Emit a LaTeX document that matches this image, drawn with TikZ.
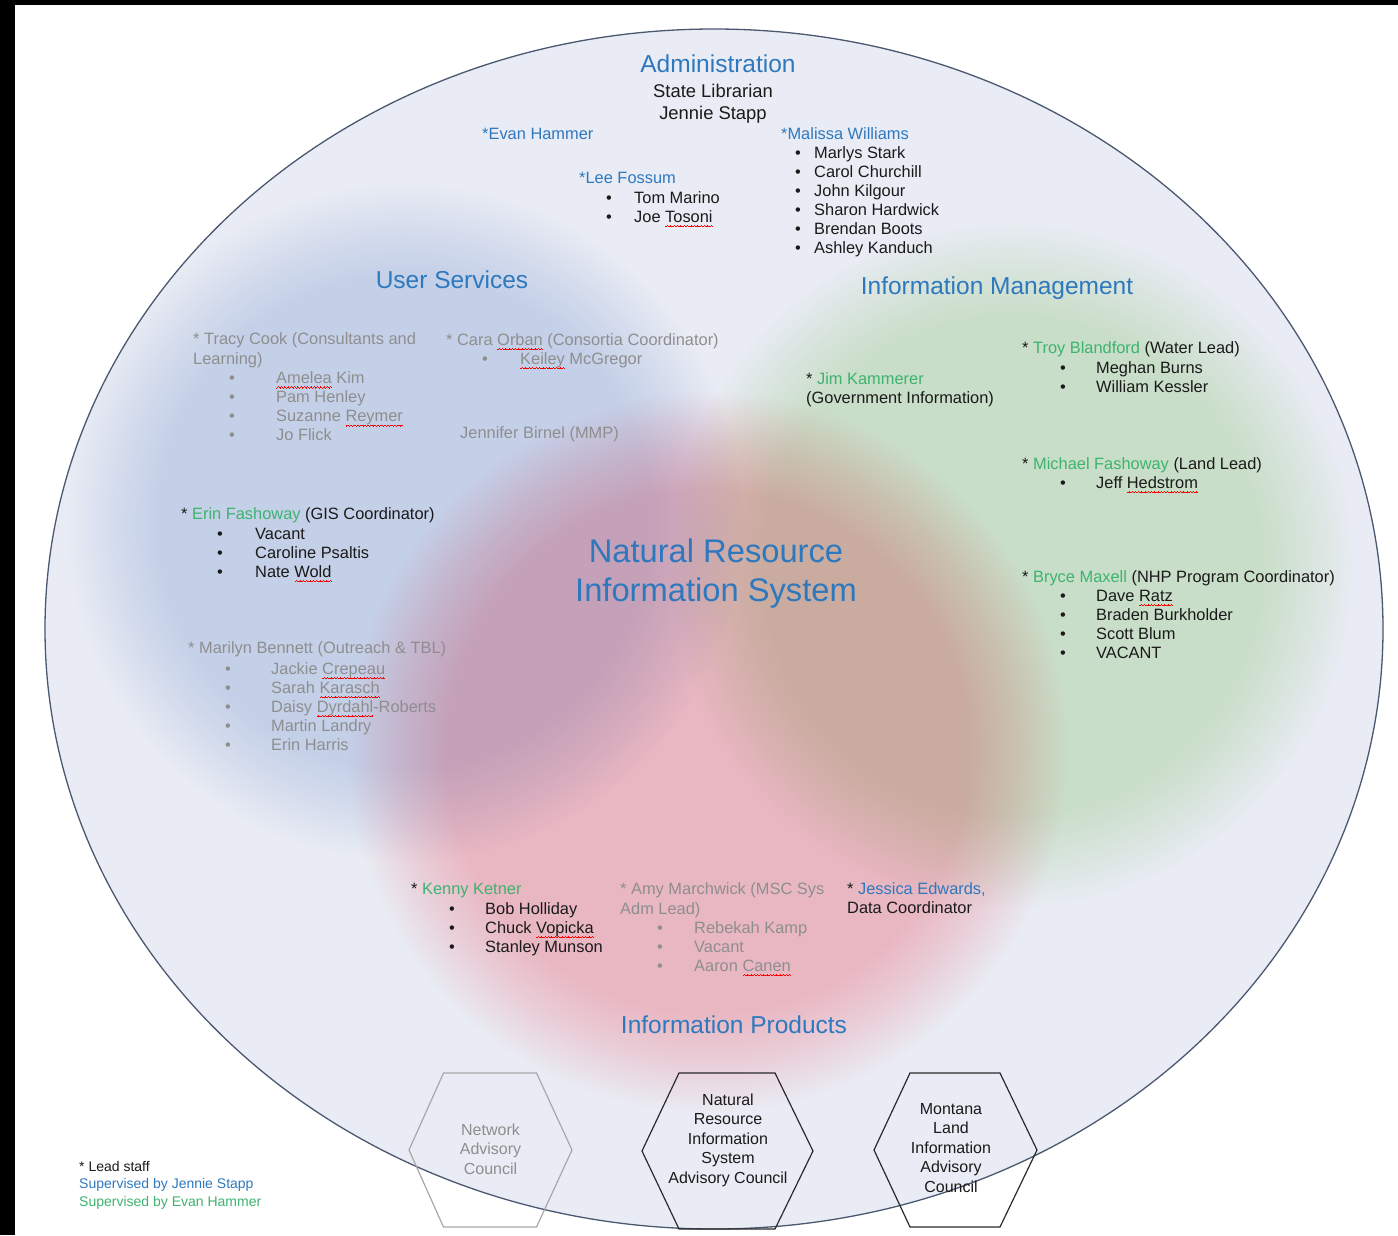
\documentclass[tikz,border=0pt]{standalone}
\usepackage{fontspec}
\setmainfont{Liberation Sans}
\usetikzlibrary{fadings}
\definecolor{jblue}{HTML}{2E78BE}
\definecolor{egreen}{HTML}{3DB36F}
\definecolor{tgray}{HTML}{8E8E8E}
\definecolor{tblack}{HTML}{1A1A1A}
\definecolor{bgfill}{HTML}{E9ECF4}
\definecolor{edgecol}{HTML}{4A5870}
\definecolor{bblue}{HTML}{D7E1F3}
\definecolor{bgreen}{HTML}{DCF0D2}
\definecolor{bred}{HTML}{FFC6CB}
\definecolor{hexgray}{HTML}{A8A8A8}
\definecolor{hexdark}{HTML}{2A2A2A}
\pgfdeclareradialshading{softsh}{\pgfpointorigin}{color(0bp)=(pgftransparent!0); color(18bp)=(pgftransparent!0); color(21.5bp)=(pgftransparent!45); color(25bp)=(pgftransparent!100); color(50bp)=(pgftransparent!100)}
\pgfdeclarefading{softedge}{\pgfuseshading{softsh}}
\newcommand\sq[1]{\setbox0\hbox{#1}\rlap{\hbox to \wd0{\xleaders\hbox{{\color{red}\rule[-5pt]{0.8pt}{0.7pt}\rule[-4.3pt]{0.8pt}{0.7pt}\rule[-3.6pt]{0.8pt}{0.7pt}\rule[-4.3pt]{0.8pt}{0.7pt}}}\hfil}}#1}
\newcommand\bu[1]{\llap{\makebox[#1pt][l]{\textbullet}}}
\tikzset{
  bodytxt/.style={inner sep=0pt, anchor=base west, font=\fontsize{16.4}{19}\selectfont, text=tblack},
  graytxt/.style={bodytxt, text=tgray},
  bluetxt/.style={bodytxt, text=jblue},
  headtxt/.style={inner sep=0pt, anchor=base, font=\fontsize{24.5}{28}\selectfont, text=jblue},
  titletxt/.style={inner sep=0pt, anchor=base, font=\fontsize{32.7}{39}\selectfont, text=jblue},
  subtxt/.style={inner sep=0pt, anchor=base, font=\fontsize{18.4}{22}\selectfont, text=tblack},
  legtxt/.style={inner sep=0pt, anchor=base west, font=\fontsize{14}{17}\selectfont},
  hextxt/.style={inner sep=0pt, align=center, font=\fontsize{16}{19.5}\selectfont},
  hexline/.style={line width=1.2pt, line join=miter},
  blob/.style={path fading=softedge},
}
\begin{document}
\begin{tikzpicture}[x=1pt,y=-1pt]
\useasboundingbox (0,0) rectangle (1398,1235);
% black borders of the screenshot
\fill[black] (0,0) rectangle (1398,5);
\fill[black] (0,0) rectangle (15,1235);
% big ellipse
\fill[bgfill] (714,629) ellipse [x radius=669, y radius=600];
\begin{scope}[blend mode=multiply]
  \fill[bblue, blob] (405,522) circle [radius=338];
  \fill[bgreen, blob] (1012,565) circle [radius=342];
  \fill[bred, blob] (708,752) circle [radius=360];
\end{scope}
\draw[edgecol, line width=1.3pt] (714,629) ellipse [x radius=669, y radius=600];

% hexagons
\draw[hexline, hexgray, shift={(490.5,1150)}] (-81.5,0) -- (-47,-77) -- (46,-77) -- (81.5,0) -- (46,77) -- (-47,77) -- cycle;
\draw[hexline, hexdark, shift={(727.5,1151)}] (-85.5,0) -- (-48.5,-78) -- (47.5,-78) -- (85.5,0) -- (47.5,78) -- (-48.5,78) -- cycle;
\draw[hexline, hexdark, shift={(955.5,1150)}] (-81.5,0) -- (-45.5,-77) -- (44.5,-77) -- (81.5,0) -- (44.5,77) -- (-45.5,77) -- cycle;
\node[hextxt, text=tgray] (nac) at (490.5,1149) {Network\\Advisory\\Council};
\node[hextxt, text=tblack] (nris) at (728,1140) {Natural\\Resource\\Information\\System\\Advisory Council};
\node[hextxt, text=tblack] (mlia) at (951,1148) {Montana\\Land\\Information\\Advisory\\Council};

% Administration
\node[headtxt] (admin) at (718,72) {Administration};
\node[subtxt] (statelib) at (713,97) {State Librarian};
\node[subtxt] (jennie) at (713,119) {Jennie Stapp};
\node[bluetxt] (evan) at (482,139) {*Evan Hammer};
\node[bluetxt] (lee) at (579,183) {*Lee Fossum};
\node[bodytxt] (lee1) at (634,203) {\bu{28}Tom Marino};
\node[bodytxt] (lee2) at (634,222) {\bu{28}Joe \sq{Tosoni}};
\node[bluetxt] (malissa) at (781,139) {*Malissa Williams};
\foreach \t [count=\i] in {Marlys Stark, Carol Churchill, John Kilgour, Sharon Hardwick, Brendan Boots, Ashley Kanduch}
  \node[bodytxt] (mw\i) at (814,139+19*\i) {\bu{19}\t};

% User Services
\node[headtxt] (us) at (452,288) {User Services};
\node[graytxt] (tracy) at (193,344) {* Tracy Cook (Consultants and};
\node[graytxt] (tracy2) at (193,364) {Learning)};
\foreach \t [count=\i] in {{\sq{Amelea} Kim}, Pam Henley, {Suzanne \sq{Reymer}}, Jo Flick}
  \node[graytxt] (tc\i) at (276,364+19.2*\i) {\bu{47}\t};
\node[graytxt] (cara) at (446,345) {* Cara \sq{Orban} (Consortia Coordinator)};
\node[graytxt] (keiley) at (520,364) {\bu{38}\sq{Keiley} McGregor};
\node[graytxt] (jennifer) at (460,438) {Jennifer Birnel (MMP)};
\node[bodytxt] (erin) at (181,519) {* \textcolor{egreen}{Erin Fashoway} (GIS Coordinator)};
\foreach \t [count=\i] in {Vacant, Caroline Psaltis, {Nate \sq{Wold}}}
  \node[bodytxt] (ef\i) at (255,520+19*\i) {\bu{38}\t};
\node[graytxt] (marilyn) at (188,653) {* Marilyn Bennett (Outreach \& TBL)};
\foreach \t [count=\i] in {{Jackie \sq{Crepeau}}, {Sarah \sq{Karasch}}, {Daisy \sq{Dyrdahl}-Roberts}, Martin Landry, Erin Harris}
  \node[graytxt] (mb\i) at (271,655+19*\i) {\bu{46}\t};

% Centre
\node[titletxt] (nris1) at (716,562) {Natural Resource};
\node[titletxt] (nris2) at (716,601) {Information System};

% Information Management
\node[headtxt] (im) at (997,294) {Information Management};
\node[bodytxt] (jim) at (806,384) {* \textcolor{egreen}{Jim Kammerer}};
\node[bodytxt] (jim2) at (806,403) {(Government Information)};
\node[bodytxt] (troy) at (1022,353) {* \textcolor{egreen}{Troy Blandford} (Water Lead)};
\foreach \t [count=\i] in {Meghan Burns, William Kessler}
  \node[bodytxt] (tb\i) at (1096,354+19*\i) {\bu{36}\t};
\node[bodytxt] (michael) at (1022,469) {* \textcolor{egreen}{Michael Fashoway} (Land Lead)};
\node[bodytxt] (jeff) at (1096,488) {\bu{36}Jeff \sq{Hedstrom}};
\node[bodytxt] (bryce) at (1022,582) {* \textcolor{egreen}{Bryce Maxell} (NHP Program Coordinator)};
\foreach \t [count=\i] in {{Dave \sq{Ratz}}, Braden Burkholder, Scott Blum, VACANT}
  \node[bodytxt] (bm\i) at (1096,582+19*\i) {\bu{36}\t};

% Information Products
\node[bodytxt] (kenny) at (411,894) {* \textcolor{egreen}{Kenny Ketner}};
\foreach \t [count=\i] in {Bob Holliday, {Chuck \sq{Vopicka}}, Stanley Munson}
  \node[bodytxt] (kk\i) at (485,895+19*\i) {\bu{36}\t};
\node[graytxt] (amy) at (620,894) {* Amy Marchwick (MSC Sys};
\node[graytxt] (amy2) at (620,914) {Adm Lead)};
\foreach \t [count=\i] in {Rebekah Kamp, Vacant, {Aaron \sq{Canen}}}
  \node[graytxt] (am\i) at (694,914+19*\i) {\bu{37}\t};
\node[bodytxt] (jessica) at (847,894) {* \textcolor{jblue}{Jessica Edwards,}};
\node[bodytxt] (jessica2) at (847,913) {Data Coordinator};
\node[headtxt] (ip) at (734,1033) {Information Products};

% Legend
\node[legtxt, text=tblack] (leg1) at (79,1171) {* Lead staff};
\node[legtxt, text=jblue] (leg2) at (79,1188) {Supervised by Jennie Stapp};
\node[legtxt, text=egreen] (leg3) at (79,1206) {Supervised by Evan Hammer};
\end{tikzpicture}
\end{document}
